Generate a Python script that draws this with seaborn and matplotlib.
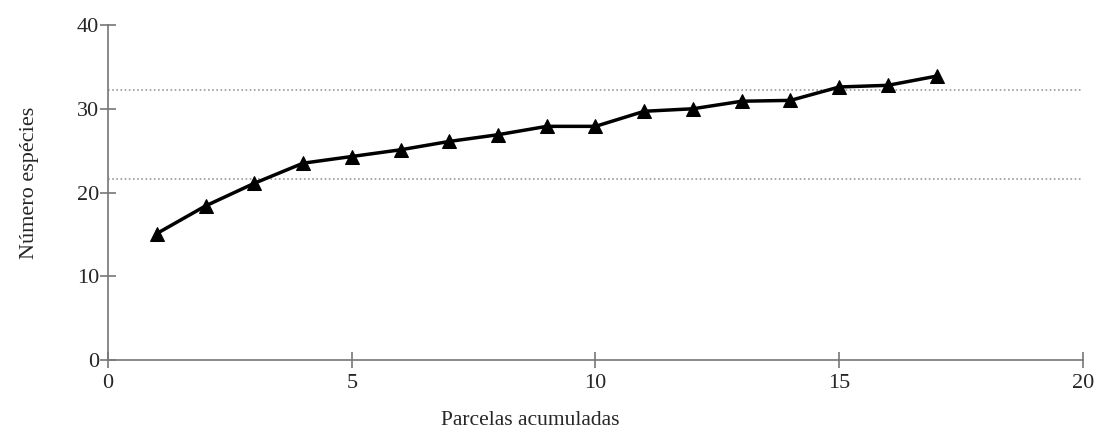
import matplotlib
matplotlib.use("Agg")
import matplotlib.pyplot as plt
import seaborn as sns
import pandas as pd

# Data
parcelas = [1, 2, 3, 4, 5, 6, 7, 8, 9, 10, 11, 12, 13, 14, 15, 16, 17]
especies = [15.1, 18.4, 21.1, 23.5, 24.3, 25.1, 26.1, 26.9, 27.9, 27.9,
            29.7, 30.0, 30.9, 31.0, 32.6, 32.8, 33.9]
ref_lines = [32.2, 21.6]
x_ticks = [0, 5, 10, 15, 20]
y_ticks = [0, 10, 20, 30, 40]

df = pd.DataFrame({"parcelas": parcelas, "especies": especies})

sns.set_style("white")
plt.rcParams["font.family"] = ["Liberation Serif", "DejaVu Serif"]

fig = plt.figure(figsize=(10.99, 4.29), dpi=100)
ax = fig.add_axes([0.0983, 0.1608, 0.8871, 0.7809])

# dotted reference lines
for y in ref_lines:
    ax.axhline(y, color="#9a9a9a", linestyle=(0, (1, 1.5)), linewidth=1.2, zorder=1)

sns.lineplot(data=df, x="parcelas", y="especies", ax=ax, color="black",
             linewidth=2.5, marker="^", markersize=10, markeredgecolor="black",
             zorder=3)

ax.set_xlim(0, 20)
ax.set_ylim(0, 40)
ax.set_xticks(x_ticks)
ax.set_yticks(y_ticks)
ax.set_xlabel("Parcelas acumuladas", fontsize=15.5, labelpad=13)
ax.xaxis.label.set_x(0.433)
ax.set_ylabel("Número espécies", fontsize=16, labelpad=27)
ax.yaxis.label.set_y(0.53)

for side in ["top", "right"]:
    ax.spines[side].set_visible(False)
for side in ["left", "bottom"]:
    ax.spines[side].set_color("#777777")
    ax.spines[side].set_linewidth(1.2)

ax.tick_params(axis="x", direction="inout", length=12, width=1.2, color="#777777",
               labelsize=16, pad=4, bottom=True)
ax.tick_params(axis="y", direction="inout", length=11, width=1.2, color="#777777",
               labelsize=16, pad=1, left=True)

fig.savefig("out.png", dpi=100)
